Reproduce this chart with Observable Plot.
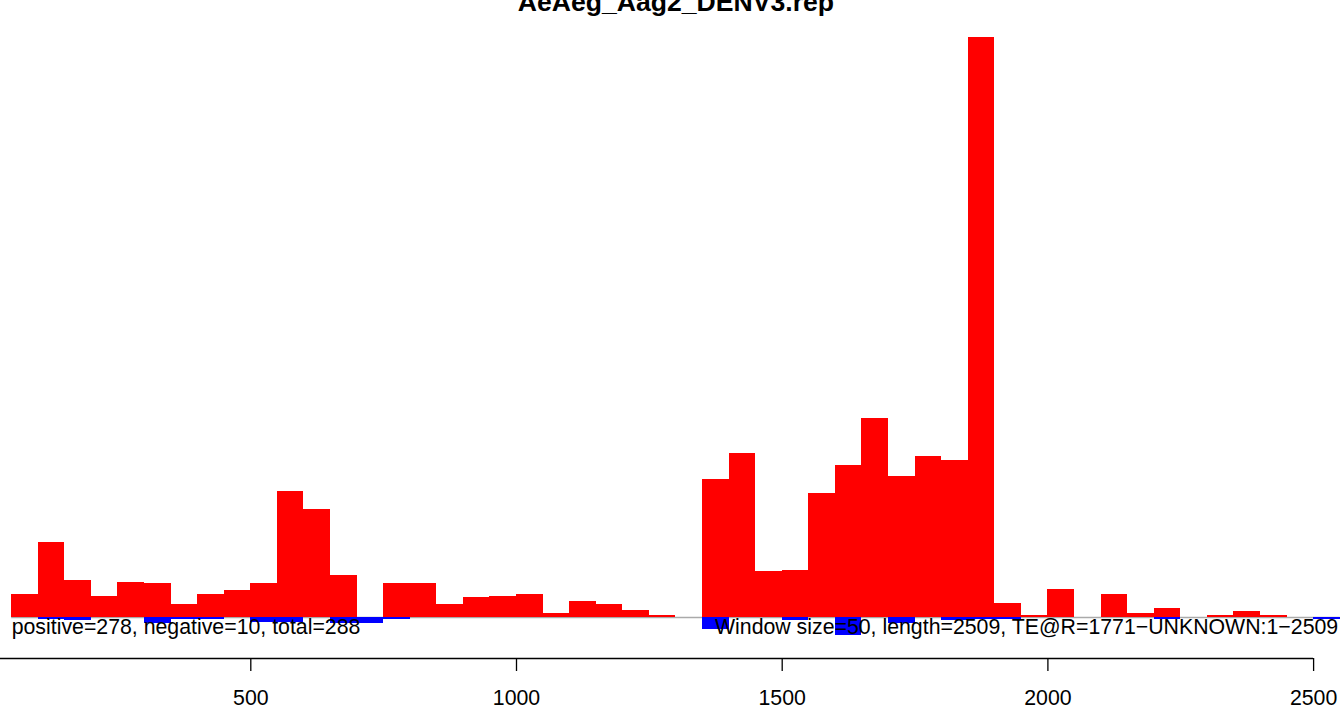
<!DOCTYPE html>
<html>
<head>
<meta charset="utf-8">
<script src="https://cdn.jsdelivr.net/npm/d3@7"></script>
<script src="https://cdn.jsdelivr.net/npm/@observablehq/plot@0.6"></script>
<style>
  html, body { margin: 0; padding: 0; background: #fff; }
  #chart svg { display: block; }
</style>
</head>
<body>
<div id="chart"></div>
<script>
// ---- data ----
const chartTitle = "AeAeg_Aag2_DENV3.rep";
const leftNote = "positive=278, negative=10, total=288";
const rightNote = "Window size=50, length=2509, TE@R=1771\u2212UNKNOWN:1\u22122509";
const windowSize = 50;

// window start positions (window k covers [start, start + 50])
const windowStarts = [50,100,150,200,250,300,350,400,450,500,
                      550,600,650,700,750,800,850,900,950,1000,
                      1050,1100,1150,1200,1250,1300,1350,1400,1450,1500,
                      1550,1600,1650,1700,1750,1800,1850,1900,1950,2000,
                      2050,2100,2150,2200,2250,2300,2350,2400,2450,2500];

// sense (positive) counts per window
const positiveCounts = [2.3,7.5,3.7,2.1,3.5,3.4,1.3,2.3,2.7,3.4,
                        12.6,10.8,4.2,0,3.4,3.4,1.3,2.0,2.1,2.3,
                        0.4,1.6,1.3,0.7,0.2,0,13.8,16.4,4.6,4.7,
                        12.4,15.2,19.9,14.1,16.1,15.7,58.0,1.4,0.2,2.8,
                        0,2.3,0.4,0.9,0,0.2,0.6,0.2,0,0];

// antisense (negative) counts per window
const negativeCounts = [0,-0.2,-0.3,0,0,-0.6,-0.2,-0.2,0,-0.5,
                        -0.5,0,-0.6,-0.6,-0.2,0,0,0,0,0,
                        0,0,0,0,0,0,-1.2,0,0,-0.3,
                        0,-1.8,0,-0.6,0,-0.3,-0.2,-0.2,0,0,
                        0,0,0,-0.2,0,0,0,0,0,-0.2];

const xTicks = [500, 1000, 1500, 2000, 2500];

// ---- build table ----
const rows = windowStarts.map((s, i) => ({
  start: s, end: s + windowSize, pos: positiveCounts[i], neg: negativeCounts[i]
}));
const xMin = windowStarts[0];
const xMax = windowStarts[windowStarts.length - 1] + windowSize;
const yMax = d3.max(positiveCounts);

// layout
const W = 1343, H = 706;
const baselinePx = 617, topPx = 37, axisPx = 658;
const pxPerUnit = (baselinePx - topPx) / yMax;
const axisValue = -(axisPx - baselinePx) / pxPerUnit;

const font = "'Liberation Sans', Arial, Helvetica, sans-serif";

const chart = Plot.plot({
  width: W,
  height: H,
  marginTop: 0,
  marginBottom: H - axisPx,
  marginLeft: 0,
  marginRight: 0,
  style: { fontFamily: font, background: "white", color: "black" },
  x: { domain: [xMin, xMax], range: [11.17, 1339.67], axis: null },
  y: { domain: [0, yMax], range: [baselinePx, topPx], axis: null },
  marks: [
    Plot.ruleY([0], { x1: xMin, x2: xMax, stroke: "#aaaaaa", strokeWidth: 1.4 }),
    Plot.rectY(rows, { x1: "start", x2: "end", y: "pos", fill: "#ff0000", inset: 0, shapeRendering: "crispEdges" }),
    Plot.rectY(rows.filter(d => d.neg < 0), { x1: "start", x2: "end", y: "neg", fill: "#0000ff", inset: 0, shapeRendering: "crispEdges" }),
    Plot.text([leftNote], { x: xMin, y: 0, text: d => d, textAnchor: "start", lineAnchor: "bottom", dy: 16, fontSize: 21.3, fill: "black" }),
    Plot.text([rightNote], { x: xMax, y: 0, text: d => d, textAnchor: "end", lineAnchor: "bottom", dy: 16, dx: -2, fontSize: 21.3, fill: "black" }),
    Plot.text([chartTitle], { x: (xMin + xMax) / 2, frameAnchor: "top", text: d => d, lineAnchor: "bottom", dy: 10, fontSize: 26.6, fontWeight: "bold", fill: "black" }),
    Plot.ruleY([axisValue], { x1: 0, x2: d3.max(xTicks), stroke: "black", strokeWidth: 1.3 }),
    Plot.axisX(xTicks, { anchor: "bottom", tickSize: 13, tickPadding: 18.7, fontSize: 21.3, strokeWidth: 1.3, tickFormat: d => String(d), label: null, fill: "black" })
  ]
});

document.getElementById("chart").appendChild(chart);
</script>
</body>
</html>
